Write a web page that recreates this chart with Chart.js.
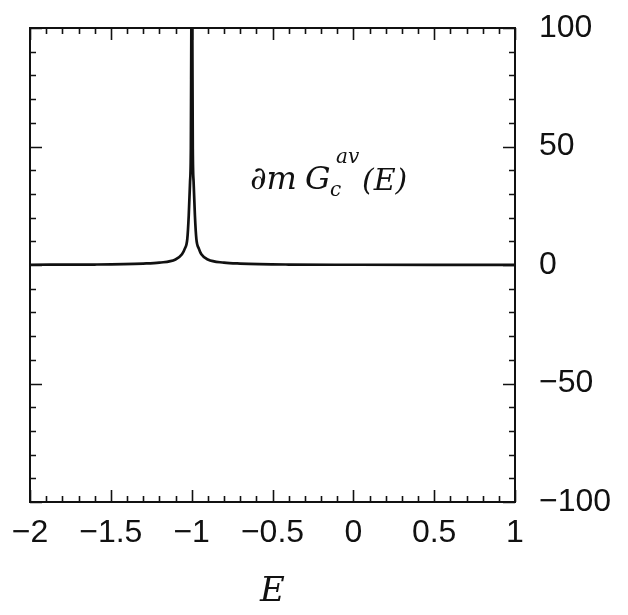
<!DOCTYPE html>
<html>
<head>
<meta charset="utf-8">
<script src="https://cdn.jsdelivr.net/npm/chart.js@4.4.1/dist/chart.umd.min.js"></script>
<style>
  html, body { margin: 0; padding: 0; background: #fff; }
  #wrap { width: 628px; height: 615px; position: relative; }
</style>
</head>
<body>
<div id="wrap"><canvas id="chart"></canvas></div>
<script>
// values
const energy = [-2, -1.6, -1.3, -1.2, -1.1, -1.06, -1.043, -1.027, -1.018, -1.01, -1.005, -1.002, -0.999,
                -0.996, -0.993, -0.988, -0.98, -0.971, -0.955, -0.94, -0.9, -0.8, -0.7, -0.4, 0, 0.5, 1];
const density = [0.1, 0.2, 0.6, 1.0, 2.3, 4.5, 6.8, 11, 21, 35, 49, 100, 140,
                 100, 49, 35, 21, 11, 6.8, 4.5, 2.3, 1.0, 0.6, 0.2, 0.1, 0.05, 0.05];
const xTicks = [-2, -1.5, -1, -0.5, 0, 0.5, 1];
const yTicks = [-100, -50, 0, 50, 100];

const minus = v => String(v).replace('-', '\u2212');

/* ======= frame, inward ticks and the hand-written label ======= */
const framePlugin = {
    id: 'frame',
    afterDatasetsDraw(chart) {
        const { ctx, chartArea: a, scales: { x, y } } = chart;
        ctx.save();
        ctx.strokeStyle = '#111';
        ctx.lineWidth = 2;
        ctx.strokeRect(a.left, a.top, a.right - a.left, a.bottom - a.top);

        ctx.lineWidth = 1.6;
        ctx.beginPath();
        for (let i = 0; i <= 30; i++) {
            const v = -2 + i * 0.1;
            const len = (i % 5 === 0) ? 12 : 6;
            const px = Math.round(x.getPixelForValue(v)) + 0.5;
            ctx.moveTo(px, a.bottom); ctx.lineTo(px, a.bottom - len);
            ctx.moveTo(px, a.top); ctx.lineTo(px, a.top + len);
        }
        for (let i = 0; i <= 20; i++) {
            const v = -100 + i * 10;
            const len = (i % 5 === 0) ? 12 : 6;
            const py = Math.round(y.getPixelForValue(v)) + 0.5;
            ctx.moveTo(a.left, py); ctx.lineTo(a.left + len, py);
            ctx.moveTo(a.right, py); ctx.lineTo(a.right - len, py);
        }
        ctx.stroke();

        // annotation inside the plot
        ctx.fillStyle = '#111';
        ctx.textBaseline = 'alphabetic';
        ctx.font = 'italic 32px "DejaVu Serif"';
        ctx.fillText('\u2202m', 250, 189);
        ctx.fillText('G', 305, 189);
        ctx.font = 'italic 20px "DejaVu Serif"';
        ctx.fillText('c', 330, 196);
        ctx.fillText('av', 336, 163);
        ctx.font = 'italic 30px "DejaVu Serif"';
        ctx.fillText('(E)', 362, 190);
        ctx.restore();
    }
};

const ctx = document.getElementById('chart').getContext('2d');
new Chart(ctx, {
    type: 'line',
    data: {
        datasets: [{
            data: energy.map((e, i) => ({ x: e, y: density[i] })),
            borderColor: '#111',
            borderWidth: 2.7,
            pointRadius: 0,
            cubicInterpolationMode: 'monotone',
            fill: false
        }]
    },
    options: {
        responsive: true,
        maintainAspectRatio: false,
        animation: false,
        layout: { padding: { left: 30, top: 28, right: 0, bottom: 0 } },
        plugins: { legend: { display: false }, tooltip: { enabled: false } },
        scales: {
            x: {
                type: 'linear',
                min: -2, max: 1,
                grid: { display: false, drawTicks: false },
                border: { display: false },
                afterBuildTicks: s => { s.ticks = xTicks.map(v => ({ value: v })); },
                afterFit: s => { s.height = 113; s.paddingLeft = 0; s.paddingRight = 0; },
                ticks: {
                    color: '#111', padding: 12, maxRotation: 0, autoSkip: false,
                    font: { family: '"Liberation Sans"', size: 32 },
                    callback: v => minus(v)
                },
                title: {
                    display: true, text: 'E', color: '#111',
                    font: { family: '"DejaVu Serif"', style: 'italic', size: 34 },
                    padding: { top: 0, bottom: 2 }
                }
            },
            y: {
                position: 'right',
                min: -100, max: 100,
                grid: { display: false, drawTicks: false },
                border: { display: false },
                afterBuildTicks: s => { s.ticks = yTicks.map(v => ({ value: v })); },
                afterFit: s => { s.width = 113; s.paddingTop = 0; s.paddingBottom = 0; },
                ticks: {
                    color: '#111', padding: 24,
                    font: { family: '"Liberation Sans"', size: 32 },
                    callback: v => minus(v)
                }
            }
        }
    },
    plugins: [framePlugin]
});
</script>
</body>
</html>
